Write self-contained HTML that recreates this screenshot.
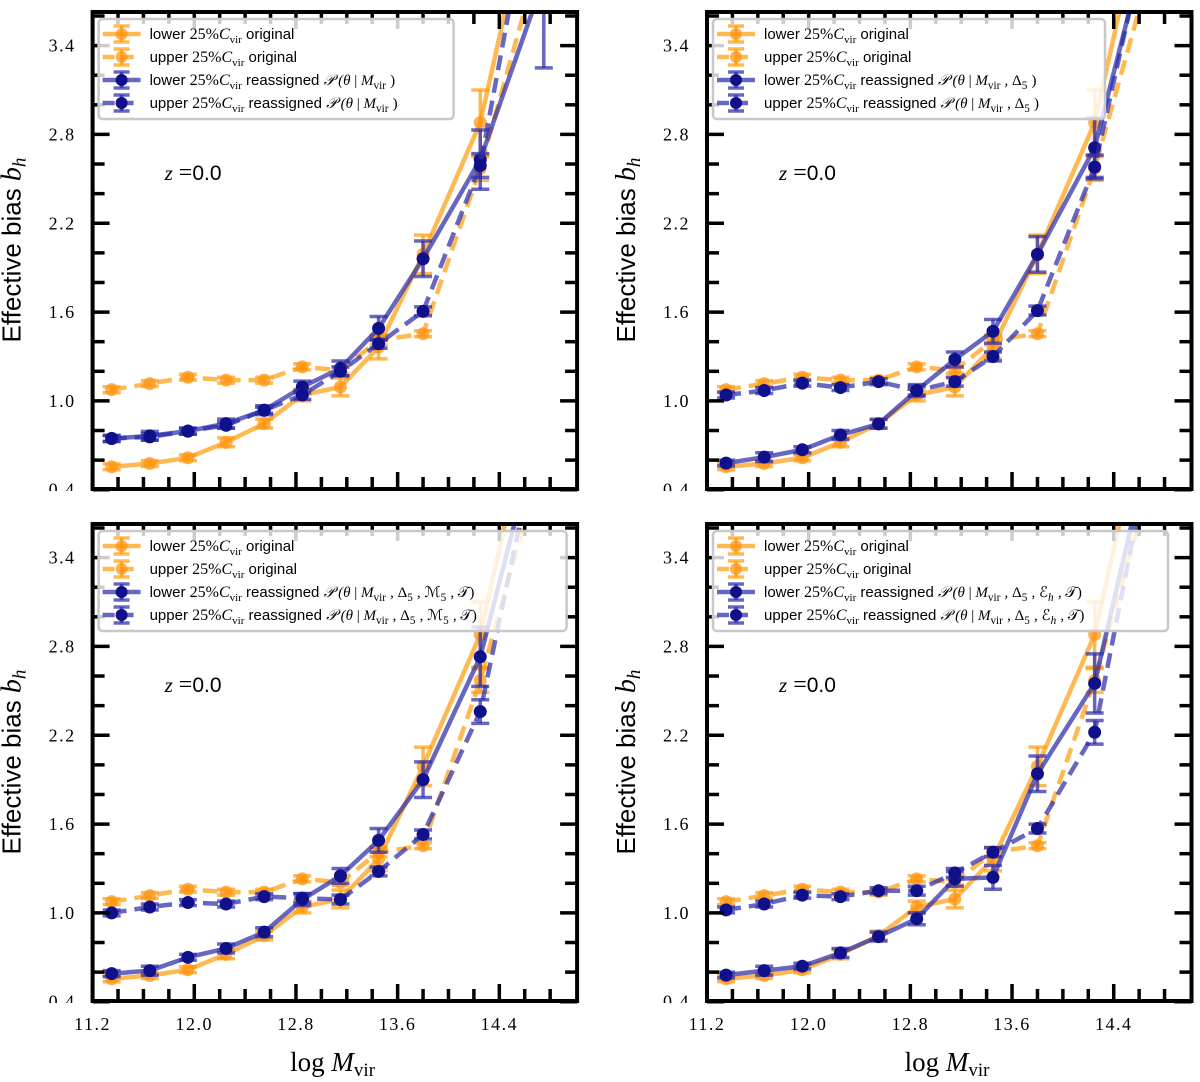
<!DOCTYPE html>
<html><head><meta charset="utf-8"><style>
html,body{margin:0;padding:0;background:#fff;}
svg{display:block;}
</style></head><body>
<svg id="fig" width="1200" height="1082" viewBox="0 0 1200 1082" xmlns="http://www.w3.org/2000/svg"></svg>
<script>
const xBins = [11.35,11.65,11.95,12.25,12.55,12.85,13.15,13.45,13.8,14.25,14.75];
const origLower = [0.555,0.577,0.616,0.72,0.847,1.04,1.094,1.364,1.99,2.88,4.8];
const origLowerErr = [0.02,0.02,0.02,0.03,0.03,0.04,0.06,0.08,0.13,0.22,0.1];
const origUpper = [1.076,1.117,1.16,1.14,1.14,1.23,1.207,1.41,1.454,2.57,4.1];
const origUpperErr = [0.02,0.02,0.02,0.02,0.02,0.02,0.02,0.03,0.02,0.08,0.1];
const p1Lower = [0.746,0.764,0.796,0.847,0.937,1.094,1.22,1.49,1.96,2.63,3.85];
const p1Upper = [0.746,0.757,0.796,0.835,0.937,1.04,1.2,1.386,1.605,2.59,4.9];
const p2Lower = [0.58,0.62,0.67,0.77,0.845,1.07,1.28,1.47,1.99,2.71,4.4];
const p2Upper = [1.04,1.07,1.12,1.09,1.13,1.07,1.13,1.3,1.61,2.58,4.5];
const p3Lower = [0.59,0.61,0.70,0.76,0.87,1.09,1.25,1.49,1.9,2.73,4.4];
const p3Upper = [1.0,1.04,1.07,1.06,1.11,1.10,1.09,1.28,1.53,2.36,4.4];
const p4Lower = [0.58,0.61,0.64,0.73,0.84,0.96,1.23,1.24,1.94,2.55,4.4];
const p4Upper = [1.02,1.06,1.12,1.11,1.15,1.15,1.27,1.41,1.57,2.22,4.4];
const reLowerErr = [0.02,0.03,0.02,0.03,0.03,0.04,0.05,0.08,0.12,0.2,0.6];
const reUpperErr = [0.02,0.02,0.02,0.02,0.02,0.03,0.03,0.03,0.03,0.08,0.1];
const yTicks = [0.4,1.0,1.6,2.2,2.8,3.4];
const yTickLabels = ["0.4","1.0","1.6","2.2","2.8","3.4"];
const xTicks = [11.2,12.0,12.8,13.6,14.4];
const xTickLabels = ["11.2","12.0","12.8","13.6","14.4"];
const legendConds = ["M","M,D","M,D,Mc,T","M,D,E,T"];

const NS="http://www.w3.org/2000/svg";
const svg=document.getElementById('fig');
function mk(tag,attrs,parent){const e=document.createElementNS(NS,tag);for(const k in attrs)e.setAttribute(k,attrs[k]);(parent||svg).appendChild(e);return e;}

const panels=[
 {l:92.6,t:12,lower:p1Lower,upper:p1Upper,leg:0,legW:355,xl:false,name:'panel-top-left'},
 {l:707,t:12,lower:p2Lower,upper:p2Upper,leg:1,legW:392,xl:false,name:'panel-top-right'},
 {l:92.6,t:524,lower:p3Lower,upper:p3Upper,leg:2,legW:468,xl:true,name:'panel-bottom-left'},
 {l:707,t:524,lower:p4Lower,upper:p4Upper,leg:3,legW:455,xl:true,name:'panel-bottom-right'}
];
const W=484.5,H=477,XMIN=11.2,XMAX=15.012,YMIN=0.405,YMAX=3.627;
const OR='rgba(255,152,0,0.68)',ORD='rgba(255,150,20,0.75)',BL='rgba(45,45,170,0.72)',BLD='#10108a';

function condText(c,parent,font){
  const parts=c.split(',');
  const it={'font-family':'Liberation Serif, serif','font-style':'italic'};
  const t=(txt,a)=>{const s=mk('tspan',Object.assign({},a||{}),parent);s.textContent=txt;return s;};
  t('𝒫 (',{'font-family':'Liberation Serif, DejaVu Serif, serif','font-style':'italic'});
  t('θ',it);t(' | ',{'font-family':'Liberation Serif, serif'});
  parts.forEach((p,i)=>{
    if(i>0)t(' , ',{'font-family':'Liberation Serif, serif'});
    if(p==='M'){t('M',it);t('vir',{'font-family':'Liberation Serif, serif','font-size':font*0.7,'dy':4});t(' ',{'dy':-4});}
    if(p==='D'){t('Δ',{'font-family':'Liberation Serif, serif'});t('5',{'font-family':'Liberation Serif, serif','font-size':font*0.7,'dy':4});t(' ',{'dy':-4});}
    if(p==='Mc'){t('ℳ',{'font-family':'DejaVu Serif, serif'});t('5',{'font-family':'Liberation Serif, serif','font-size':font*0.7,'dy':4});t(' ',{'dy':-4});}
    if(p==='E'){t('ℰ',{'font-family':'DejaVu Serif, serif'});t('h',{'font-family':'Liberation Serif, serif','font-style':'italic','font-size':font*0.7,'dy':4});t(' ',{'dy':-4});}
    if(p==='T'){t('𝒯',{'font-family':'DejaVu Serif, serif'});}
  });
  t(')',{'font-family':'Liberation Serif, serif'});
}

panels.forEach((P,pi)=>{
  const g=mk('g',{});
  
  
  const X=v=>P.l+(v-XMIN)/(XMAX-XMIN)*W;
  const Y=v=>P.t+H-(v-YMIN)/(YMAX-YMIN)*H;
  const cid='clip'+pi;
  const cp=mk('clipPath',{id:cid},g);mk('rect',{x:P.l,y:P.t,width:W,height:H},cp);
  const plot=mk('g',{'clip-path':'url(#'+cid+')'},g);
  function series(vals,errs,lineC,markC,dash,name){
    const sg=mk('g',{},plot);
    
    
    const pts=vals.map((v,i)=>X(xBins[i])+','+Y(v)).join(' ');
    const pl=mk('polyline',{points:pts,fill:'none',stroke:lineC,'stroke-width':4.5,'stroke-linejoin':'round'},sg);
    if(dash)pl.setAttribute('stroke-dasharray','15 8');
    vals.forEach((v,i)=>{
      const x=X(xBins[i]),e=errs[i];
      mk('line',{x1:x,x2:x,y1:Y(v-e),y2:Y(v+e),stroke:lineC,'stroke-width':3.5},sg);
      mk('line',{x1:x-9,x2:x+9,y1:Y(v-e),y2:Y(v-e),stroke:lineC,'stroke-width':3.5},sg);
      mk('line',{x1:x-9,x2:x+9,y1:Y(v+e),y2:Y(v+e),stroke:lineC,'stroke-width':3.5},sg);
      const c=mk('circle',{cx:x,cy:Y(v),r:6.5,fill:markC},sg);
      
      
    });
  }
  series(origLower,origLowerErr,OR,ORD,false,'lower-original-series');
  series(origUpper,origUpperErr,OR,ORD,true,'upper-original-series');
  series(P.lower,reLowerErr,BL,BLD,false,'lower-reassigned-series');
  series(P.upper,reUpperErr,BL,BLD,true,'upper-reassigned-series');

  for(let k=0;k<=18;k++){
    const v=11.2+0.2*k; if(v>XMAX)break;
    const x=X(v),len=(k%4===0)?17:12;
    mk('line',{x1:x,x2:x,y1:P.t+H,y2:P.t+H-len,stroke:'#000','stroke-width':3.5},g);
    mk('line',{x1:x,x2:x,y1:P.t,y2:P.t+len,stroke:'#000','stroke-width':3.5},g);
  }
  for(let k=0;k<=16;k++){
    const v=0.4+0.2*k; if(v>YMAX)break;
    const y=Y(v),len=(k%3===0)?17:12;
    mk('line',{x1:P.l,x2:P.l+len,y1:y,y2:y,stroke:'#000','stroke-width':3.5},g);
    mk('line',{x1:P.l+W,x2:P.l+W-len,y1:y,y2:y,stroke:'#000','stroke-width':3.5},g);
  }
  mk('rect',{x:P.l,y:P.t,width:W,height:H,fill:'none',stroke:'#000','stroke-width':4},g);

  yTicks.forEach((v,i)=>{
    const t=mk('text',{x:P.l-17,y:Y(v)+6,'text-anchor':'end','font-family':'Liberation Serif, serif','font-size':18,'letter-spacing':'1.5'},g);
    t.textContent=yTickLabels[i];
    
    
  });
  mk('rect',{x:P.l-60,y:P.t+H+2,width:60,height:14,fill:'#fff'},g);
  if(P.xl){
    xTicks.forEach((v,i)=>{
      const t=mk('text',{x:X(v),y:P.t+H+29,'text-anchor':'middle','font-family':'Liberation Serif, serif','font-size':18,'letter-spacing':'1.5'},g);
      t.textContent=xTickLabels[i];
      
      
    });
    const xt=mk('text',{x:P.l+240,y:1071,'text-anchor':'middle','font-family':'Liberation Serif, serif','font-size':27},g);
    
    
    const a=mk('tspan',{},xt);a.textContent='log ';
    const b=mk('tspan',{'font-style':'italic'},xt);b.textContent='M';
    const c=mk('tspan',{'font-size':19,dy:5},xt);c.textContent='vir';
  }
  const yt=mk('text',{transform:'translate('+(P.l-72)+','+(P.t+238)+') rotate(-90)','text-anchor':'middle','font-family':'Liberation Sans, sans-serif','font-size':26},g);
  
  
  const y1=mk('tspan',{},yt);y1.textContent='Effective bias ';
  const y2=mk('tspan',{'font-family':'Liberation Serif, serif','font-style':'italic','font-size':28},yt);y2.textContent='b';
  const y3=mk('tspan',{'font-family':'Liberation Serif, serif','font-style':'italic','font-size':19,dy:5},yt);y3.textContent='h';

  const zt=mk('text',{x:P.l+72,y:P.t+168,'font-family':'Liberation Sans, sans-serif','font-size':21},g);
  
  
  const z1=mk('tspan',{'font-family':'Liberation Serif, serif','font-style':'italic'},zt);z1.textContent='z';
  const z2=mk('tspan',{'font-family':'Liberation Serif, serif','font-size':24},zt);z2.textContent='  =';
  const z3=mk('tspan',{},zt);z3.textContent='0.0';

  const lg=mk('g',{},g);
  
  
  mk('rect',{x:P.l+6,y:P.t+7,width:P.legW,height:100,rx:4,fill:'rgba(255,255,255,0.8)',stroke:'#c8c8c8','stroke-width':2.5},lg);
  const entries=[['lower',OR,ORD,false,'original'],['upper',OR,ORD,true,'original'],['lower',BL,BLD,false,'re'],['upper',BL,BLD,true,'re']];
  entries.forEach((en,i)=>{
    const ey=P.t+22+i*23;
    const eg=mk('g',{},lg);
    
    
    const ln=mk('line',{x1:P.l+10,x2:P.l+48,y1:ey,y2:ey,stroke:en[1],'stroke-width':4.5},eg);
    if(en[3])ln.setAttribute('stroke-dasharray','12 7');
    mk('line',{x1:P.l+29,x2:P.l+29,y1:ey-8,y2:ey+8,stroke:en[1],'stroke-width':3.5},eg);
    mk('line',{x1:P.l+21,x2:P.l+37,y1:ey-8,y2:ey-8,stroke:en[1],'stroke-width':3.5},eg);
    mk('line',{x1:P.l+21,x2:P.l+37,y1:ey+8,y2:ey+8,stroke:en[1],'stroke-width':3.5},eg);
    mk('circle',{cx:P.l+29,cy:ey,r:6,fill:en[2]},eg);
    const t=mk('text',{x:P.l+57,y:ey+5,'font-family':'Liberation Sans, sans-serif','font-size':15},eg);
    const s1=mk('tspan',{},t);s1.textContent=en[0]+' ';
    const s2=mk('tspan',{'font-family':'Liberation Serif, serif','font-size':16},t);s2.textContent='25%';
    const s3=mk('tspan',{'font-family':'Liberation Serif, serif','font-style':'italic','font-size':16},t);s3.textContent='C';
    const s4=mk('tspan',{'font-family':'Liberation Serif, serif','font-size':11,dy:4},t);s4.textContent='vir';
    const s5=mk('tspan',{dy:-4},t);
    if(en[4]==='original'){s5.textContent=' original';}
    else{s5.textContent=' reassigned ';condText(legendConds[P.leg],t,16);}
  });
});
</script>
</body></html>
